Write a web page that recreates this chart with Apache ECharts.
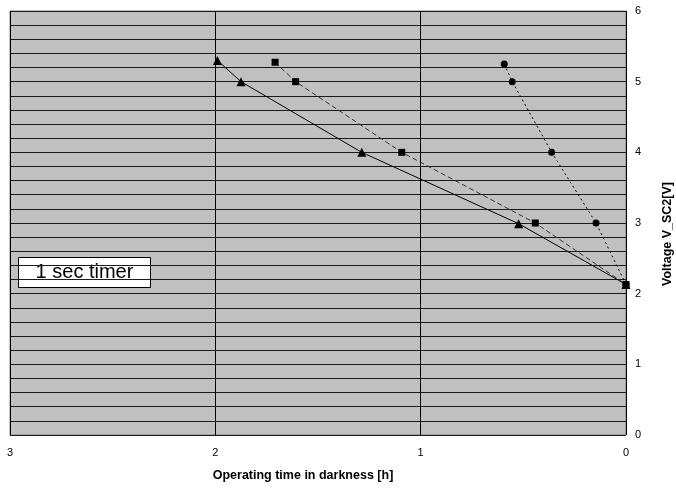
<!DOCTYPE html>
<html>
<head>
<meta charset="utf-8">
<script src="https://cdn.jsdelivr.net/npm/echarts@6/dist/echarts.min.js"></script>
<style>html,body{margin:0;padding:0;background:#fff}#c{width:676px;height:489px}</style>
</head>
<body>
<div id="c"></div>
<script>
// Data
var xTicks = [0, 1, 2, 3];
var yTicks = [0, 1, 2, 3, 4, 5, 6];
var triTime = [1.99, 1.875, 1.287, 0.523, 0];
var triVolt = [5.30, 5.00, 4.00, 2.99, 2.13];
var sqTime = [1.709, 1.609, 1.092, 0.442, 0];
var sqVolt = [5.275, 5.00, 4.00, 3.00, 2.13];
var cirTime = [0.593, 0.554, 0.362, 0.146, 0];
var cirVolt = [5.25, 5.00, 4.00, 3.00, 2.13];
var xName = 'Operating time in darkness [h]';
var yName = 'Voltage V_SC2[V]';
var boxText = '1 sec timer';

function pairs(xs, ys) { return xs.map(function (x, i) { return [x, ys[i]]; }); }

var font = '"Liberation Sans", Arial, sans-serif';
var chart = echarts.init(document.getElementById('c'), null, { renderer: 'canvas' });
chart.setOption({
  animation: false,
  backgroundColor: '#ffffff',
  textStyle: { fontFamily: font },
  grid: {
    left: 10, right: 50, top: 11, bottom: 54,
    outerBoundsMode: 'none', containLabel: false,
    show: true, backgroundColor: '#C0C0C0', borderColor: '#808080', borderWidth: 1
  },
  xAxis: {
    type: 'value', min: xTicks[0], max: xTicks[xTicks.length - 1], interval: 1, inverse: true,
    axisLine: { show: false }, axisTick: { show: false },
    axisLabel: { color: '#000', fontSize: 11, margin: 12, fontFamily: font },
    splitLine: { show: true, lineStyle: { color: '#000', width: 1 } },
    name: xName, nameLocation: 'middle', nameGap: 34,
    nameTextStyle: { color: '#000', fontSize: 12.5, fontWeight: 'bold', fontFamily: font, padding: [0, 30, 0, 0] }
  },
  yAxis: {
    type: 'value', position: 'right', min: yTicks[0], max: yTicks[yTicks.length - 1], interval: 1,
    axisLine: { show: false }, axisTick: { show: false },
    axisLabel: { color: '#000', fontSize: 11, margin: 9, fontFamily: font },
    splitLine: { show: true, lineStyle: { color: '#1a1a1a', width: 1 } },
    minorTick: { show: false, splitNumber: 5 },
    minorSplitLine: { show: true, lineStyle: { color: '#1a1a1a', width: 1 } },
    name: yName, nameLocation: 'middle', nameGap: 35, nameRotate: 90,
    nameTextStyle: { color: '#000', fontSize: 12.5, fontWeight: 'bold', fontFamily: font, padding: [0, 22, 0, 0] }
  },
  series: [
    {
      type: 'line', data: pairs(cirTime, cirVolt), symbol: 'circle', symbolSize: 7,
      itemStyle: { color: '#000' }, lineStyle: { color: '#000', width: 1, type: [2, 3] }, z: 3
    },
    {
      type: 'line', data: pairs(triTime, triVolt), symbol: 'triangle', symbolSize: 9,
      itemStyle: { color: '#000' }, lineStyle: { color: '#000', width: 1, type: 'solid' }, z: 4
    },
    {
      type: 'line', data: pairs(sqTime, sqVolt), symbol: 'rect', symbolSize: 7,
      itemStyle: { color: '#000' }, lineStyle: { color: '#333', width: 1, type: [5, 3] }, z: 5
    }
  ],
  graphic: [
    {
      type: 'group', left: 18, top: 257, z: 10,
      children: [
        { type: 'rect', shape: { x: 0, y: 0, width: 132, height: 30 },
          style: { fill: '#fff', stroke: '#000', lineWidth: 1 } },
        { type: 'text', x: 66, y: 15,
          style: { text: boxText, fill: '#000', font: '20px ' + font, align: 'center', verticalAlign: 'middle' } }
      ]
    }
  ]
});
</script>
</body>
</html>
